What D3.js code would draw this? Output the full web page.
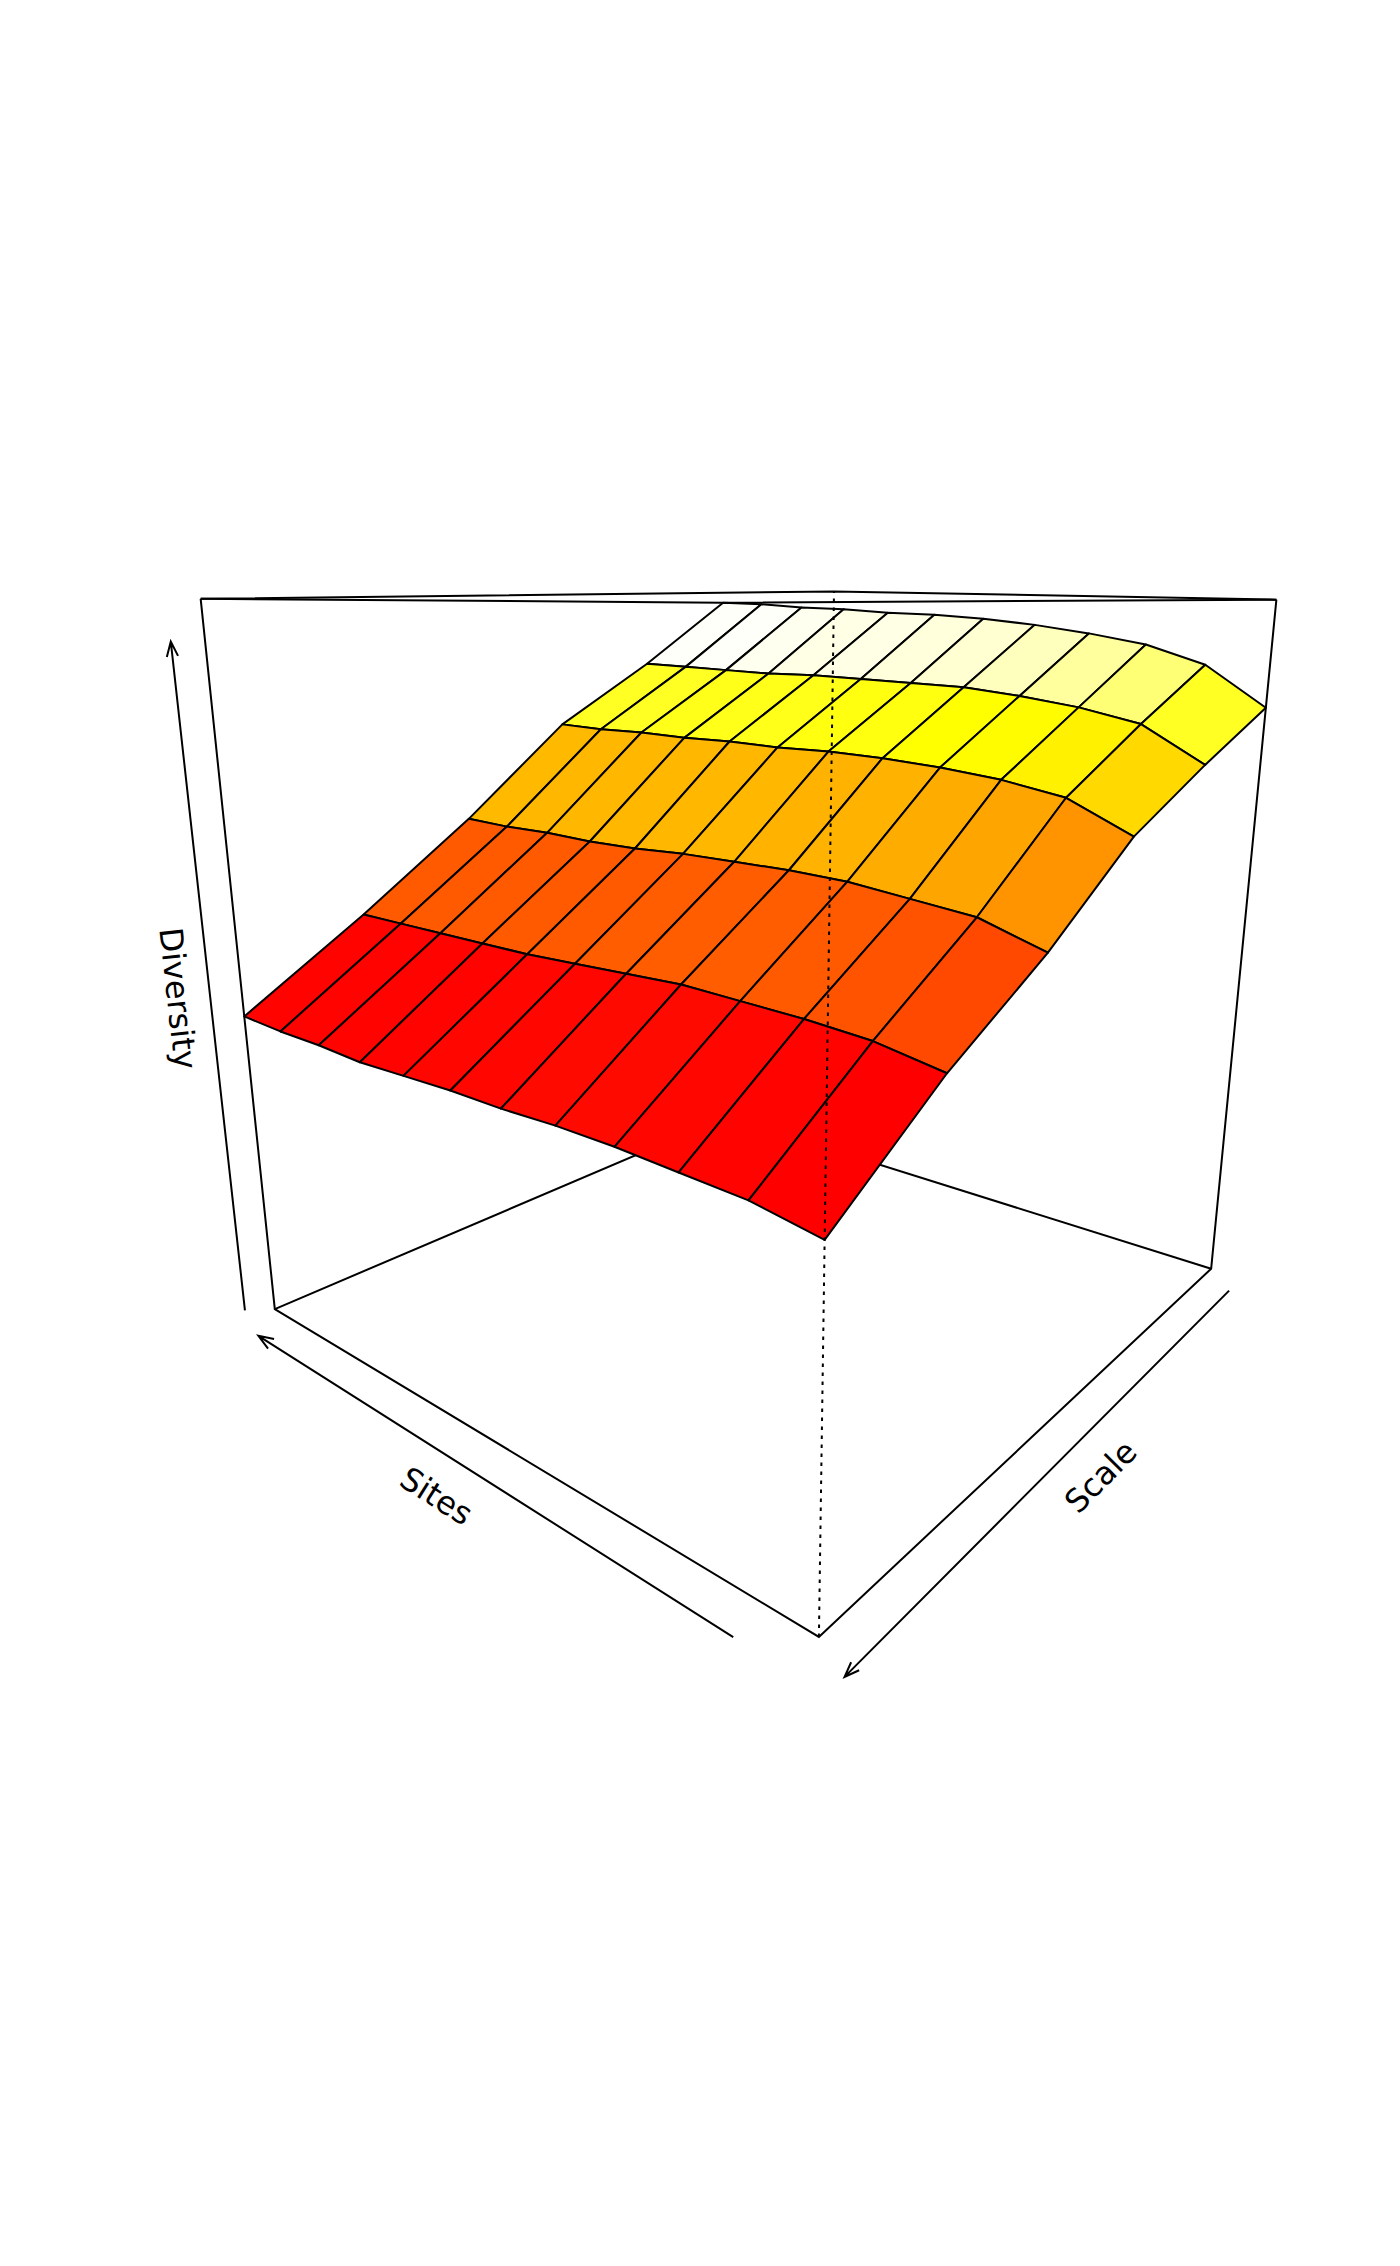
<!DOCTYPE html>
<html>
<head>
<meta charset="utf-8">
<script src="https://cdn.jsdelivr.net/npm/d3@7"></script>
<style>
  body { margin: 0; background: white; }
  text { font-family: "DejaVu Sans", sans-serif; font-size: 32px; fill: black; }
</style>
</head>
<body>
<script>
// Axis positions, and diversity along Sites for each Scale step
const sites = [1, 2, 3, 4, 5, 6, 7, 8, 9, 10, 11, 12];
const scales = [1, 2, 3, 4, 5, 6];
const scale1 = [2.91, 3.10, 3.19, 3.24, 3.28, 3.31, 3.33, 3.34, 3.36, 3.37, 3.39, 3.40];
const scale2 = [2.70, 2.86, 2.92, 2.96, 2.99, 3.00, 3.01, 3.02, 3.02, 3.03, 3.04, 3.05];
const scale3 = [2.47, 2.60, 2.65, 2.68, 2.70, 2.71, 2.71, 2.72, 2.72, 2.73, 2.73, 2.74];
const scale4 = [2.12, 2.21, 2.24, 2.27, 2.28, 2.28, 2.28, 2.27, 2.27, 2.28, 2.28, 2.29];
const scale5 = [1.83, 1.88, 1.90, 1.91, 1.92, 1.91, 1.90, 1.89, 1.89, 1.89, 1.89, 1.89];
const scale6 = [1.47, 1.51, 1.52, 1.53, 1.53, 1.52, 1.52, 1.51, 1.50, 1.51, 1.51, 1.52];
const diversity = [scale1, scale2, scale3, scale4, scale5, scale6];
const diversityLimits = [0, 3.4];

const width = 1400, height = 2266;
const strokeWidth = 2;

// View, as in R persp()
const theta = 220 * Math.PI / 180;
const phi = 15 * Math.PI / 180;
const eyeDistance = 3.744;
const zoom = 1329;
const centerX = 756.9, centerY = 967.6;

// Data to the unit box
const x = d3.scaleLinear().domain(d3.extent(sites)).range([-1, 1]);
const y = d3.scaleLinear().domain(d3.extent(scales)).range([-1, 1]);
const z = d3.scaleLinear().domain(diversityLimits).range([-1, 1]);

function project(X, Y, Z) {
  const u = X * Math.cos(theta) + Y * Math.sin(theta);
  const depth = X * Math.sin(theta) - Y * Math.cos(theta);
  const v = Z * Math.cos(phi) - depth * Math.sin(phi);
  const w = eyeDistance - (depth * Math.cos(phi) + Z * Math.sin(phi));
  return [centerX + zoom * u / w, centerY - zoom * v / w];
}

// heat.colors(100)
const heatColors = d3.range(100).map(k => k < 75
  ? d3.rgb(255, 255 * k / 74, 0).formatHex()
  : d3.rgb(255, 255, 255 * (0.02 + 0.96 * (k - 75) / 24)).formatHex());

const svg = d3.select("body").append("svg")
    .attr("width", width)
    .attr("height", height);

const line = d3.line();
const boxLine = (points, dash) => svg.append("path")
    .attr("d", line(points.map(p => project(...p))))
    .attr("fill", "none")
    .attr("stroke", "black")
    .attr("stroke-width", strokeWidth)
    .attr("stroke-dasharray", dash || null);

// Box faces behind the surface
boxLine([[1, 1, -1], [1, -1, -1], [-1, -1, -1]]);
boxLine([[1, -1, -1], [1, -1, 1]]);
boxLine([[1, 1, 1], [1, -1, 1], [-1, -1, 1]]);

// Facets, far corner first
const facets = [];
scales.slice(0, -1).forEach((s, j) => {
  d3.range(sites.length - 2, -1, -1).forEach(i => {
    const corners = [[i, j], [i + 1, j], [i + 1, j + 1], [i, j + 1]];
    facets.push({
      level: d3.mean(corners, c => diversity[c[1]][c[0]]),
      points: corners.map(c => project(x(sites[c[0]]), y(scales[c[1]]), z(diversity[c[1]][c[0]])))
    });
  });
});

const color = d3.scaleQuantize()
    .domain(d3.extent(facets, d => d.level))
    .range(heatColors);

svg.append("g")
    .selectAll("path")
    .data(facets)
    .join("path")
    .attr("d", d => line(d.points) + "Z")
    .attr("fill", d => color(d.level))
    .attr("stroke", "black")
    .attr("stroke-width", strokeWidth)
    .attr("stroke-linejoin", "round");

// Box faces in front of the surface
boxLine([[1, 1, 1], [1, 1, -1], [-1, 1, -1], [-1, -1, -1], [-1, -1, 1]]);
boxLine([[1, 1, 1], [-1, 1, 1], [-1, -1, 1]]);
boxLine([[-1, 1, -1], [-1, 1, 1]], "3.5,5.5");

// Simple axes: an arrow and a label along each of them
function arrow(from, to) {
  const a = project(...from), b = project(...to);
  const angle = Math.atan2(b[1] - a[1], b[0] - a[0]);
  const barb = d => [b[0] - 16 * Math.cos(angle + d), b[1] - 16 * Math.sin(angle + d)];
  svg.append("path")
      .attr("d", line([a, b]) + line([barb(0.36), b, barb(-0.36)]))
      .attr("fill", "none")
      .attr("stroke", "black")
      .attr("stroke-width", strokeWidth);
  return angle * 180 / Math.PI;
}

function label(text, at, rotation) {
  const p = project(...at);
  svg.append("text")
      .attr("transform", `translate(${p[0]},${p[1]}) rotate(${rotation})`)
      .attr("text-anchor", "middle")
      .attr("dy", "0.35em")
      .text(text);
}

const sitesAngle = arrow([-0.87, 1.11, -1], [0.9, 1.11, -1]);
const scaleAngle = arrow([-1.095, -0.9, -1], [-1.1, 1.05, -1]);
const diversityAngle = arrow([1.06, 1.06, -1], [1.06, 1.06, 0.895]);

label("Sites", [-0.06, 1.22, -1], sitesAngle + 180);
label("Scale", [-1.2, 0.17, -1], scaleAngle + 180);
label("Diversity", [1.12, 1.12, -0.05], diversityAngle + 180);
</script>
</body>
</html>
